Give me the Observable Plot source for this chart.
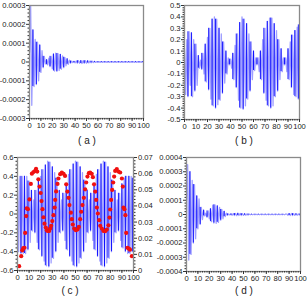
<!DOCTYPE html>
<html><head><meta charset="utf-8">
<script src="https://cdn.jsdelivr.net/npm/d3@7"></script>
<script src="https://cdn.jsdelivr.net/npm/@observablehq/plot@0.6"></script>
<style>
body{margin:0;background:#fff;}
#root{position:relative;width:307px;height:298px;overflow:hidden;font-family:"Liberation Sans",Arial,sans-serif;}
.p{position:absolute;}
.cap{position:absolute;font-size:10px;line-height:10px;color:#222;transform:translateX(-50%);white-space:pre;}
</style></head><body><div id="root"></div>
<script>
// x axis (sample index 0..100)
const xTicks = [0,10,20,30,40,50,60,70,80,90,100];
const xMinor = d3.range(0, 101, 2);

// panel (a): signed peak values, in units of 1e-4
const aUnit = 1e-4;
const aValues = [0.5,3.0,-2.3,1.7,-1.3,1.2,-1.2,1.05,-1.0,0.9,-0.55,0.6,-0.3,0.3,-0.1,0.12,-0.15,0.2,-0.25,0.3,
 -0.35,0.42,-0.48,0.47,-0.5,0.45,-0.45,0.4,-0.38,0.32,-0.3,0.25,-0.2,0.17,-0.12,0.1,-0.07,0.05,-0.03,0.03,
 -0.04,0.05,-0.06,0.07,-0.07,0.07,-0.08,0.07,-0.07,0.07,-0.06,0.06,-0.05,0.05,-0.04,0.04,-0.03,0.03,-0.02,0.02,
 -0.02,0.02,-0.02,0.02,-0.02,0.02,-0.02,0.02,-0.02,0.02,-0.02,0.02,-0.02,0.02,-0.02,0.02,-0.02,0.02,-0.02,0.02,
 -0.02,0.02,-0.02,0.02,-0.02,0.02,-0.02,0.02,-0.02,0.02,-0.02,0.02,-0.02,0.02,-0.02,0.02,-0.02,0.02,-0.02,0.02,-0.02];
const aTicks = [-0.0003,-0.0002,-0.0001,0,0.0001,0.0002,0.0003];

// panel (b)
const bValues = [0.12,-0.28,0.2,-0.3,0.27,-0.2,0.26,-0.3,0.2,-0.25,0.16,-0.2,0.06,-0.05,0.02,-0.06,0.08,-0.1,0.16,-0.17,
 0.22,-0.24,0.3,-0.32,0.38,-0.38,0.4,-0.4,0.38,-0.37,0.3,-0.33,0.25,-0.27,0.18,-0.18,0.1,-0.1,0.04,-0.02,
 0.03,-0.05,0.08,-0.15,0.15,-0.22,0.25,-0.33,0.35,-0.4,0.4,-0.41,0.38,-0.38,0.34,-0.32,0.25,-0.25,0.18,-0.15,
 0.1,-0.07,0.04,-0.02,0.04,-0.08,0.1,-0.15,0.2,-0.27,0.3,-0.33,0.36,-0.38,0.39,-0.4,0.39,-0.38,0.34,-0.3,
 0.28,-0.25,0.2,-0.15,0.12,-0.08,0.04,-0.02,0.04,-0.08,0.12,-0.15,0.18,-0.22,0.24,-0.28,0.28,-0.3,0.31,-0.32,0.33];
const bTicks = [-0.5,-0.4,-0.3,-0.2,-0.1,0,0.1,0.2,0.3,0.4,0.5];

// panel (c): blue signal (left axis) and red points (right axis)
const cValues = [0.38,-0.4,0.4,-0.42,0.4,-0.42,0.4,-0.42,0.4,-0.38,0.35,-0.3,0.25,-0.18,0.15,-0.2,0.25,-0.3,0.35,-0.38,
 0.4,-0.45,0.47,-0.5,0.52,-0.55,0.56,-0.56,0.55,-0.52,0.5,-0.47,0.44,-0.4,0.38,-0.3,0.25,-0.2,0.15,-0.18,
 0.22,-0.28,0.32,-0.38,0.42,-0.45,0.47,-0.5,0.53,-0.55,0.56,-0.56,0.55,-0.52,0.5,-0.47,0.44,-0.4,0.36,-0.3,
 0.25,-0.2,0.15,-0.18,0.22,-0.28,0.32,-0.38,0.42,-0.45,0.47,-0.5,0.53,-0.55,0.56,-0.56,0.55,-0.52,0.5,-0.47,
 0.44,-0.4,0.36,-0.3,0.25,-0.2,0.15,-0.18,0.22,-0.28,0.32,-0.36,0.38,-0.4,0.4,-0.42,0.4,-0.42,0.4,-0.4,0.38];
const cTicks = [-0.6,-0.4,-0.2,0,0.2,0.4,0.6];
const cRightTicks = [0,0.01,0.02,0.03,0.04,0.05,0.06,0.07];
const cDotX = [1.4,3.2,4.2,5,6,6.6,7.5,8,9,10.3,11.5,12.4,13.8,15.2,16,17,18,19,20,20.7,21.5,22.4,23.3,24.4,25.3,26,27.3,28.2,29,30,
 31,32,32.5,33.3,34.5,35.3,36.8,38.2,39.7,41,42,43,44,44.8,46,46.8,47.7,48.9,50.3,51.7,52.9,54,54.9,56,57.2,58.3,59.2,60.3,61.5,62.6,
 64,65,66,67,67.8,68.4,69.3,70.4,71.3,72.7,74.1,75.6,77,78.4,79.3,79.9,80.7,81.6,82.5,83.3,84.2,85.6,87,88.5,90,90.8,91.4,92.2,93,93.7,
 94.8,96,97,98.6];
const cDotY = [0.0027,0.0089,0.0125,0.0138,0.0141,0.0233,0.0337,0.0385,0.038,0.044,0.0536,0.060,0.061,0.0617,0.063,0.0613,0.0565,0.052,0.048,0.043,
 0.038,0.033,0.029,0.0266,0.025,0.0245,0.0245,0.026,0.0277,0.0306,0.0343,0.039,0.0437,0.049,0.0536,0.057,0.0597,0.0607,0.0599,0.0586,
 0.0534,0.0489,0.045,0.0405,0.0358,0.0318,0.0285,0.026,0.025,0.0254,0.027,0.0318,0.0364,0.0405,0.045,0.0503,0.0545,0.0582,0.0603,0.0607,
 0.0599,0.0578,0.0534,0.0489,0.0437,0.039,0.0353,0.0312,0.0277,0.026,0.0245,0.0243,0.0254,0.028,0.0328,0.0378,0.0437,0.0499,0.0545,0.0582,
 0.0617,0.0628,0.0613,0.0607,0.057,0.052,0.039,0.038,0.0343,0.0233,0.0141,0.0135,0.0129,0.0089];

// panel (d): signed peak values, in units of 1e-4
const dUnit = 1e-4;
const dValues = [1.0,3.5,-3.2,3.0,-2.8,2.4,-2.0,2.1,-1.7,1.3,-1.0,1.1,-0.7,0.5,-0.35,0.3,-0.1,0.1,-0.2,0.25,
 -0.3,0.4,-0.5,0.65,-0.6,0.68,-0.62,0.6,-0.55,0.5,-0.4,0.35,-0.3,0.22,-0.15,0.1,-0.06,0.04,-0.03,0.04,
 -0.05,0.06,-0.07,0.07,-0.08,0.08,-0.07,0.07,-0.07,0.06,-0.06,0.05,-0.05,0.04,-0.04,0.03,-0.02,0.02,-0.02,0.02,
 -0.02,0.02,-0.02,0.02,-0.02,0.02,-0.02,0.02,-0.02,0.02,-0.02,0.02,-0.02,0.02,-0.02,0.02,-0.02,0.02,-0.02,0.02,
 -0.02,0.02,-0.02,0.02,-0.02,0.02,-0.02,0.02,0.03,-0.05,0.06,-0.07,0.07,-0.07,0.06,-0.06,0.05,-0.05,0.04,-0.04,0.03];
const dTicks = [-0.0004,-0.0003,-0.0002,-0.0001,0,0.0001,0.0002,0.0003,0.0004];

const FONT = 7.6;
function fmt(dec) { return d => Math.abs(d) < 1e-12 ? "0" : (d < 0 ? "-" : "") + Math.abs(d).toFixed(dec); }
function minorOf(ticks, n) {
  const out = [];
  for (let i = 0; i < ticks.length - 1; i++) {
    const s = (ticks[i+1] - ticks[i]) / n;
    for (let k = 1; k < n; k++) out.push(ticks[i] + k * s);
  }
  return out;
}

function panel(o) {
  const pts = o.values.map((v, i) => ({x: i, y: v * o.unit}));
  const spikes = [];
  for (let i = 0; i < pts.length - 1; i += 3) spikes.push({x: pts[i].x, y1: pts[i].y, y2: pts[i+1].y});
  const marks = [
    Plot.line(pts, {x: "x", y: "y", stroke: "#5050ff", strokeWidth: 1.3, strokeOpacity: 0.55, clip: true}),
    Plot.ruleX(spikes, {x: "x", y1: "y1", y2: "y2", stroke: "#0000ff", strokeWidth: 0.9, clip: true}),
    ...(o.extra || []),
    Plot.frame({stroke: "#8a8a8a", strokeWidth: 1.3}),
    Plot.axisY(o.ticks, {tickSize: 3, tickPadding: 1, tickFormat: fmt(o.dec), fontSize: FONT, stroke: "#333", label: null}),
    Plot.axisY(minorOf(o.ticks, 5), {tickSize: 1.5, tickFormat: () => "", stroke: "#333", label: null}),
    Plot.axisX(xTicks, {tickSize: 3, tickPadding: 1.5, fontSize: FONT, stroke: "#333", label: null}),
    Plot.axisX(xMinor, {tickSize: 1.5, tickFormat: () => "", stroke: "#333", label: null}),
    ...(o.extraAxes || [])
  ];
  const svg = Plot.plot({
    width: o.width, height: o.height,
    marginLeft: o.ml, marginRight: o.mr, marginTop: o.mt, marginBottom: o.mb,
    x: {domain: [0, 100], label: null},
    y: {domain: o.domain, label: null},
    style: {background: "transparent", fontFamily: "'Liberation Sans', Arial, sans-serif", fontSize: FONT + "px", overflow: "visible", color: "#222"},
    marks
  });
  svg.classList.add("p");
  svg.style.left = o.left + "px";
  svg.style.top = o.top + "px";
  document.getElementById("root").appendChild(svg);
  const cap = document.createElement("div");
  cap.className = "cap";
  cap.textContent = o.caption;
  cap.style.left = o.capX + "px";
  cap.style.top = o.capY + "px";
  document.getElementById("root").appendChild(cap);
}

panel({values: aValues, unit: aUnit, domain: [-0.0003, 0.0003], ticks: aTicks, dec: 4,
  left: 0, top: 0, width: 153, height: 148, ml: 29, mr: 10, mt: 5, mb: 30,
  caption: "( a )", capX: 87, capY: 136});

panel({values: bValues, unit: 1, domain: [-0.5, 0.5], ticks: bTicks, dec: 1,
  left: 153, top: 0, width: 154, height: 148, ml: 31, mr: 8, mt: 5, mb: 29,
  caption: "( b )", capX: 244, capY: 136});

// right axis of (c) shares the plot area: map its values onto the left scale
const cToLeft = v => -0.6 + v / 0.07 * 1.2;
const cFromLeft = d => (d + 0.6) / 1.2 * 0.07;
const cDots = cDotX.map((x, i) => ({x, y: cToLeft(cDotY[i])}));
panel({values: cValues, unit: 1, domain: [-0.6, 0.6], ticks: cTicks, dec: 1,
  left: 0, top: 148, width: 160, height: 150, ml: 17, mr: 27, mt: 9, mb: 28,
  caption: "( c )", capX: 70, capY: 286,
  extra: [Plot.dot(cDots, {x: "x", y: "y", r: 2.1, fill: "#f01010", stroke: "none"})],
  extraAxes: [
    Plot.axisY(cRightTicks.map(cToLeft), {anchor: "right", tickSize: 3, tickPadding: 1.5, fontSize: FONT, stroke: "#333", label: null,
      tickFormat: d => { const v = Math.round(cFromLeft(d) * 100) / 100; return v === 0 ? "0" : v.toFixed(2); }}),
    Plot.axisY(minorOf(cRightTicks, 5).map(cToLeft), {anchor: "right", tickSize: 1.5, tickFormat: () => "", stroke: "#333", label: null})
  ]});

panel({values: dValues, unit: dUnit, domain: [-0.0004, 0.0004], ticks: dTicks, dec: 4,
  left: 153, top: 148, width: 154, height: 150, ml: 33, mr: 7, mt: 9, mb: 27,
  caption: "( d )", capX: 244, capY: 286});
</script></body></html>
